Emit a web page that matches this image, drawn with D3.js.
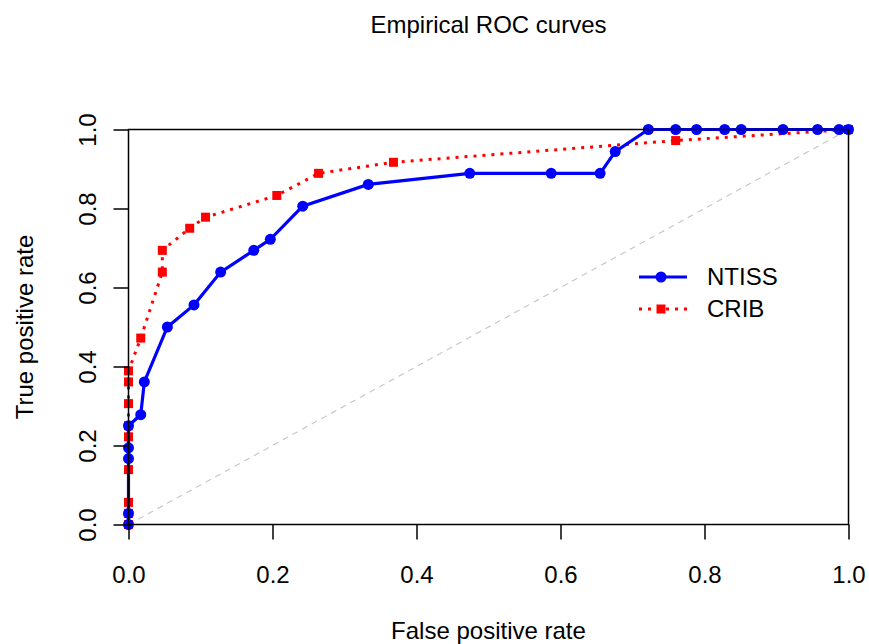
<!DOCTYPE html>
<html>
<head>
<meta charset="utf-8">
<script src="https://cdn.jsdelivr.net/npm/d3@7"></script>
<style>
  body { margin: 0; background: #fff; }
  text { font-family: "Liberation Sans", Arial, sans-serif; fill: #000; }
</style>
</head>
<body>
<div id="viz"></div>
<script>
var width = 869;
var height = 644;
var fontSize = "24px";
var circleRadius = 5.5;
var squareSize = 9;

/* data */
var ntissFpr = [0, 0, 0, 0, 0, 0.017, 0.022, 0.054, 0.091, 0.128, 0.174, 0.197, 0.242, 0.333, 0.474, 0.587, 0.655, 0.676, 0.722, 0.760, 0.789, 0.828, 0.851, 0.909, 0.957, 0.987, 1.0];
var ntissTpr = [0, 0.028, 0.167, 0.194, 0.25, 0.278, 0.361, 0.5, 0.556, 0.639, 0.694, 0.722, 0.806, 0.861, 0.889, 0.889, 0.889, 0.944, 1, 1, 1, 1, 1, 1, 1, 1, 1];

var cribFpr = [0, 0, 0, 0, 0, 0, 0, 0, 0, 0.017, 0.047, 0.047, 0.085, 0.107, 0.206, 0.264, 0.368, 0.760, 1.0];
var cribTpr = [0, 0.028, 0.056, 0.139, 0.222, 0.25, 0.306, 0.361, 0.389, 0.472, 0.639, 0.694, 0.75, 0.778, 0.833, 0.889, 0.917, 0.972, 1.0];

var xTicks = [0, 0.2, 0.4, 0.6, 0.8, 1.0];
var yTicks = [0, 0.2, 0.4, 0.6, 0.8, 1.0];
var seriesNames = ["NTISS", "CRIB"];
var seriesColors = ["#0000ff", "#ff0000"];

var ntiss = ntissFpr.map((d, i) => ({ fpr: d, tpr: ntissTpr[i] }));
var crib = cribFpr.map((d, i) => ({ fpr: d, tpr: cribTpr[i] }));

/* Scale */
var xScale = d3.scaleLinear().domain([0, 1]).range([128.5, 848.5]);
var yScale = d3.scaleLinear().domain([0, 1]).range([524.5, 129.5]);

var svg = d3
  .select("#viz")
  .append("svg")
  .attr("width", width)
  .attr("height", height);

/* chance diagonal */
svg
  .append("line")
  .attr("x1", xScale(0))
  .attr("y1", yScale(0))
  .attr("x2", xScale(1))
  .attr("y2", yScale(1))
  .style("stroke", "#c8c8c8")
  .style("stroke-width", 1.2)
  .style("stroke-dasharray", "6,5");

var line = d3
  .line()
  .x(d => xScale(d.fpr))
  .y(d => yScale(d.tpr));

/* CRIB */
svg
  .append("path")
  .attr("d", line(crib))
  .style("fill", "none")
  .style("stroke", seriesColors[1])
  .style("stroke-width", 3)
  .style("stroke-dasharray", "3,6");

svg
  .selectAll(".crib-pt")
  .data(crib)
  .enter()
  .append("rect")
  .attr("class", "crib-pt")
  .attr("x", d => xScale(d.fpr) - squareSize / 2)
  .attr("y", d => yScale(d.tpr) - squareSize / 2)
  .attr("width", squareSize)
  .attr("height", squareSize)
  .style("fill", seriesColors[1]);

/* NTISS */
svg
  .append("path")
  .attr("d", line(ntiss))
  .style("fill", "none")
  .style("stroke", seriesColors[0])
  .style("stroke-width", 3.2);

svg
  .selectAll(".ntiss-pt")
  .data(ntiss)
  .enter()
  .append("circle")
  .attr("class", "ntiss-pt")
  .attr("cx", d => xScale(d.fpr))
  .attr("cy", d => yScale(d.tpr))
  .attr("r", circleRadius)
  .style("fill", seriesColors[0]);

/* box */
svg
  .append("rect")
  .attr("x", xScale(0))
  .attr("y", yScale(1))
  .attr("width", xScale(1) - xScale(0))
  .attr("height", yScale(0) - yScale(1))
  .style("fill", "none")
  .style("stroke", "#000")
  .style("stroke-width", 1.5);

/* Axes */
var xAxis = d3
  .axisBottom(xScale)
  .tickValues(xTicks)
  .tickFormat(d3.format(".1f"))
  .tickSize(15)
  .tickPadding(26);
var yAxis = d3
  .axisLeft(yScale)
  .tickValues(yTicks)
  .tickFormat(d3.format(".1f"))
  .tickSize(15);

var gx = svg
  .append("g")
  .attr("transform", `translate(0, ${yScale(0)})`)
  .call(xAxis);
gx.select(".domain").remove();
gx.selectAll("line").style("stroke", "#000").style("stroke-width", 1.5);
gx.selectAll("text").style("font-size", fontSize);

var gy = svg
  .append("g")
  .attr("transform", `translate(${xScale(0)}, 0)`)
  .call(yAxis);
gy.select(".domain").remove();
gy.selectAll("line").style("stroke", "#000").style("stroke-width", 1.5);
gy.selectAll("text")
  .style("font-size", fontSize)
  .attr("x", null)
  .attr("dy", null)
  .attr("text-anchor", "middle")
  .attr("dominant-baseline", "central")
  .attr("transform", "translate(-41, 0) rotate(-90)");

/* titles */
svg
  .append("text")
  .attr("x", (xScale(0) + xScale(1)) / 2)
  .attr("y", 33)
  .attr("text-anchor", "middle")
  .style("font-size", fontSize)
  .text("Empirical ROC curves");

svg
  .append("text")
  .attr("x", (xScale(0) + xScale(1)) / 2)
  .attr("y", 639)
  .attr("text-anchor", "middle")
  .style("font-size", fontSize)
  .text("False positive rate");

svg
  .append("text")
  .attr("transform", `translate(33, ${(yScale(0) + yScale(1)) / 2}) rotate(-90)`)
  .attr("text-anchor", "middle")
  .style("font-size", fontSize)
  .text("True positive rate");

/* legend */
var legend = svg
  .selectAll(".legend")
  .data(seriesNames)
  .enter()
  .append("g")
  .attr("class", "legend")
  .attr("transform", (d, i) => `translate(639, ${277 + i * 32})`);

legend
  .append("line")
  .attr("x1", 0)
  .attr("x2", 48)
  .style("stroke", (d, i) => seriesColors[i])
  .style("stroke-width", 3)
  .style("stroke-dasharray", (d, i) => (i === 1 ? "3,6" : null));

legend
  .filter((d, i) => i === 0)
  .append("circle")
  .attr("cx", 22)
  .attr("r", circleRadius)
  .style("fill", seriesColors[0]);

legend
  .filter((d, i) => i === 1)
  .append("rect")
  .attr("x", 22 - squareSize / 2)
  .attr("y", -squareSize / 2)
  .attr("width", squareSize)
  .attr("height", squareSize)
  .style("fill", seriesColors[1]);

legend
  .append("text")
  .attr("x", 68)
  .attr("dy", "0.35em")
  .style("font-size", fontSize)
  .text(d => d);
</script>
</body>
</html>
